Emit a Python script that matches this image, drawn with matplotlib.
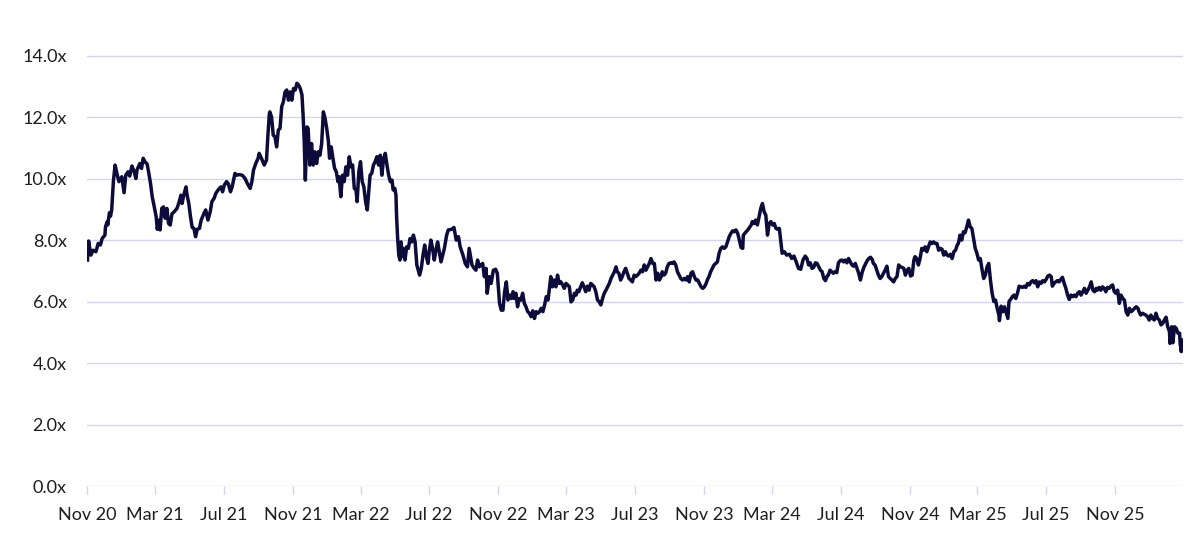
import matplotlib
matplotlib.use("Agg")
import matplotlib.pyplot as plt
import numpy as np
import pandas as pd

# days since 1 Nov 2020
day_offsets = [
    0, 2, 6, 10, 15, 19, 23, 26, 31, 32, 35, 36, 39, 41, 43, 46, 49, 53, 56, 61,
    65, 68, 72, 75, 79, 83, 86, 88, 93, 96, 99, 102, 106, 109, 112, 115, 118, 122, 124, 127,
    129, 132, 135, 138, 141, 144, 147, 150, 154, 159, 163, 166, 168, 171, 175, 177, 180, 183, 186, 189,
    192, 195, 199, 202, 207, 210, 214, 218, 221, 225, 228, 232, 237, 240, 243, 247, 250, 254, 257, 262,
    265, 269, 275, 280, 284, 289, 292, 295, 299, 303, 305, 309, 314, 318, 320, 323,
    324, 327, 330, 333, 336, 339, 342, 345, 348, 351, 354, 357, 360, 363, 366, 369, 372, 375, 378, 381,
    383, 385, 387, 390, 392, 395, 398, 401, 404, 407, 410, 413, 416, 419, 422, 425, 428, 430, 433, 436,
    439, 442, 445, 447, 450, 453, 456, 459, 462, 465, 468, 471, 474, 477, 479, 482, 485, 488, 491, 494,
    497, 500, 502, 505, 508, 511, 514, 517, 520, 523, 526, 529, 532, 535, 538, 541, 543, 546, 548, 549,
    551, 553, 555, 557, 559, 561, 564, 567, 570, 573, 576, 579, 582, 585, 590, 593, 596, 599, 602, 605,
    607, 610, 613, 616, 619, 622, 625, 628, 631, 634,
    638, 641, 647, 651, 655, 659, 662, 667, 671, 675, 678, 683, 687, 690, 693, 696, 699, 702, 705, 708,
    710, 714, 717, 721, 725, 728, 732, 735, 738, 741, 744, 747, 750, 753, 756, 758, 761, 764, 767, 770,
    773, 776, 779, 782, 785, 788, 791, 794, 797, 800, 803, 806, 809, 812, 815, 818, 821, 823, 826, 829,
    832, 835, 838, 841, 844, 847, 850, 853, 856, 859, 862, 865, 868, 870, 873, 876, 879, 882, 885, 888,
    891, 894, 897, 900, 903, 906, 909, 912, 915, 918, 921, 924, 927, 930, 933, 936, 939, 941, 944, 947,
    950, 953, 956, 959, 962, 965, 968, 971, 974, 977, 980, 983, 986, 989, 992, 995, 998, 1001, 1004, 1007,
    1010, 1013, 1016, 1019, 1021, 1024, 1027, 1030, 1033, 1036, 1039, 1042, 1045, 1048, 1051, 1054, 1057, 1060, 1063, 1066,
    1069, 1072, 1075, 1078, 1081, 1084, 1087, 1090, 1093, 1096, 1099, 1101, 1104, 1107, 1110, 1113, 1116, 1119, 1122, 1125,
    1128, 1131, 1134, 1137, 1140, 1143, 1146, 1149, 1152, 1155, 1158, 1161, 1164, 1165, 1170, 1173, 1176, 1179, 1181, 1184,
    1187, 1190, 1193, 1196, 1199, 1202, 1205, 1208, 1211, 1214, 1217, 1220, 1223, 1226, 1229,
    1234, 1238, 1242, 1247, 1251, 1255, 1259, 1263, 1267, 1271, 1275, 1278, 1281, 1284, 1287, 1290, 1293, 1296, 1299, 1302,
    1305, 1308, 1311, 1314, 1316, 1319, 1322, 1325, 1328, 1331, 1334, 1337, 1340, 1343, 1346, 1349, 1352, 1355, 1358, 1361,
    1364, 1367, 1370, 1373, 1376, 1379, 1382, 1385, 1388, 1391, 1394, 1396, 1399, 1402, 1405, 1408, 1411, 1414, 1417, 1420,
    1423, 1426, 1429, 1432, 1435, 1438, 1441, 1444, 1447, 1450, 1453, 1456, 1459, 1462, 1465, 1468, 1470, 1473, 1476, 1479,
    1482, 1485, 1488, 1491, 1494, 1497, 1500, 1503, 1506, 1509, 1512, 1515, 1518, 1521, 1524, 1527, 1530, 1533, 1536, 1539,
    1542, 1545, 1547, 1550, 1553, 1556, 1559, 1562, 1565, 1568, 1571, 1574, 1577, 1580, 1583, 1586, 1589, 1592, 1595, 1598,
    1601, 1604, 1607, 1610, 1613, 1616, 1619, 1620, 1623, 1626, 1629, 1632, 1635, 1637, 1641, 1643, 1646, 1649, 1652, 1655,
    1658, 1661, 1664, 1667, 1670, 1673, 1676, 1679, 1682, 1685, 1688, 1691, 1694, 1697, 1700, 1703, 1706, 1709, 1712, 1714,
    1717, 1720, 1723, 1726, 1729, 1732, 1735, 1738, 1741, 1744, 1747, 1750, 1753, 1756, 1759, 1762, 1765, 1768, 1771, 1774,
    1777, 1780, 1783, 1786, 1789, 1792, 1794, 1797, 1800, 1803, 1806, 1809, 1812, 1815, 1818, 1821, 1824, 1827, 1830, 1833,
    1836, 1839, 1842, 1845, 1848, 1851, 1854, 1857, 1860, 1863, 1866, 1868, 1871, 1874, 1877, 1880, 1883, 1886, 1889, 1892,
    1895, 1898, 1901, 1904, 1907, 1910, 1913, 1916, 1919, 1922, 1923, 1926, 1928, 1931, 1934, 1937, 1940, 1941, 1943, 1945,
]

multiples = [
    7.35, 7.97, 7.51, 7.67, 7.62, 7.89, 7.84, 8.05, 8.16, 8.43, 8.60, 8.49, 8.89, 8.78, 8.98, 9.90, 10.44, 10.11, 9.90, 10.06,
    9.54, 10.11, 10.22, 10.08, 10.41, 10.22, 10.00, 10.28, 10.49, 10.33, 10.66, 10.55, 10.47, 10.17, 9.84, 9.41, 9.14, 8.76, 8.35, 8.65,
    8.33, 9.03, 9.08, 8.71, 9.03, 8.54, 8.49, 8.85, 8.92, 9.03, 9.25, 9.46, 9.19, 9.46, 9.73, 9.46, 9.19, 8.76, 8.41, 8.38,
    8.11, 8.35, 8.38, 8.65, 8.87, 8.98, 8.65, 8.92, 9.25, 9.36, 9.52, 9.63, 9.73, 9.57, 9.79, 9.90, 9.84, 9.57, 9.73, 10.17,
    10.11, 10.13, 10.11, 10.00, 9.84, 9.68, 9.90, 10.28, 10.49, 10.66, 10.82, 10.66, 10.44, 10.60, 11.25, 12.10,
    12.17, 12.00, 11.41, 11.36, 11.03, 11.58, 11.63, 12.34, 12.50, 12.82, 12.88, 12.55, 12.82, 12.55, 12.93, 12.88, 13.10, 13.04, 12.93, 12.72,
    12.07, 11.20, 9.95, 11.68, 11.63, 10.44, 11.14, 10.44, 10.87, 10.49, 10.87, 10.76, 11.14, 12.17, 11.96, 11.63, 11.20, 10.66, 11.03, 10.66,
    10.33, 10.22, 9.90, 10.06, 9.41, 10.11, 9.90, 10.38, 10.11, 10.71, 10.38, 10.44, 9.68, 9.63, 9.25, 10.22, 10.55, 9.90, 9.73, 9.25,
    8.98, 9.68, 10.11, 10.17, 10.44, 10.55, 10.71, 10.44, 10.76, 10.11, 10.66, 10.82, 10.44, 10.11, 9.90, 9.95, 9.63, 9.68, 9.46, 8.81,
    8.05, 7.51, 7.35, 7.94, 7.46, 7.73, 7.35, 7.78, 7.73, 8.05, 7.94, 8.16, 7.94, 7.19, 6.86, 7.08, 7.51, 7.84, 7.46, 7.24,
    7.62, 8.00, 7.73, 7.35, 7.67, 7.94, 7.62, 7.29, 7.51, 7.73,
    8.16, 8.33, 8.35, 8.41, 8.00, 8.11, 7.78, 7.51, 7.24, 7.13, 7.73, 7.19, 7.08, 7.02, 7.35, 7.13, 7.19, 7.24, 6.81, 7.08,
    6.27, 6.81, 6.59, 7.02, 7.05, 6.92, 5.94, 5.72, 5.72, 6.32, 6.64, 6.05, 6.21, 6.10, 6.32, 6.10, 6.27, 5.83, 6.10, 6.05,
    6.27, 5.94, 5.83, 5.67, 5.62, 5.51, 5.70, 5.45, 5.67, 5.62, 5.67, 5.78, 5.67, 5.89, 6.16, 6.05, 6.48, 6.81, 6.48, 6.70,
    6.48, 6.86, 6.59, 6.64, 6.54, 6.43, 6.59, 6.54, 6.48, 5.99, 6.05, 6.27, 6.21, 6.37, 6.32, 6.48, 6.61, 6.48, 6.32, 6.50,
    6.37, 6.59, 6.54, 6.48, 6.32, 6.05, 5.99, 5.89, 6.10, 6.27, 6.37, 6.48, 6.59, 6.75, 6.86, 6.97, 7.13, 6.97, 6.92, 6.70,
    6.81, 6.97, 7.08, 6.92, 6.75, 6.70, 6.64, 6.86, 6.81, 6.86, 6.92, 7.02, 6.97, 7.19, 7.02, 7.13, 7.24, 7.40, 7.24, 7.24,
    6.70, 6.92, 6.70, 6.81, 6.97, 6.86, 6.92, 7.13, 7.24, 7.26, 7.24, 7.29, 7.19, 6.97, 6.86, 6.75, 6.70, 6.75, 6.70, 6.81,
    6.64, 6.92, 6.97, 6.81, 6.70, 6.70, 6.59, 6.48, 6.43, 6.48, 6.59, 6.70, 6.81, 6.97, 7.08, 7.19, 7.24, 7.29, 7.57, 7.73,
    7.78, 7.73, 7.78, 7.94, 8.11, 8.22, 8.30, 8.27, 8.33, 8.22, 8.00, 7.76, 7.73, 8.16, 8.27, 8.33, 8.41, 8.49, 8.60, 8.54,
    8.65, 8.49, 8.76, 9.03, 9.19, 8.92, 8.81, 8.16, 8.54, 8.60, 8.49, 8.54, 8.38, 8.35, 8.38,
    7.57, 7.62, 7.51, 7.54, 7.40, 7.48, 7.29, 7.08, 7.05, 7.35, 7.48, 7.40, 7.19, 7.26, 7.08, 7.11, 7.26, 7.24, 7.13, 7.02,
    6.97, 6.75, 6.68, 6.83, 6.86, 7.02, 6.97, 6.92, 6.97, 6.94, 7.26, 7.33, 7.35, 7.29, 7.35, 7.26, 7.40, 7.29, 7.19, 7.15,
    7.24, 7.08, 6.92, 6.70, 6.94, 7.11, 7.22, 7.33, 7.40, 7.44, 7.37, 7.24, 7.19, 7.02, 6.86, 6.75, 6.81, 6.92, 7.02, 7.15,
    6.81, 6.75, 6.70, 6.64, 6.75, 6.81, 7.19, 7.13, 7.11, 7.08, 6.86, 7.02, 7.08, 6.83, 6.86, 7.35, 7.46, 7.40, 7.19, 7.40,
    7.73, 7.67, 7.78, 7.62, 7.78, 7.94, 7.89, 7.94, 7.89, 7.89, 7.67, 7.73, 7.70, 7.51, 7.62, 7.51, 7.48, 7.54, 7.40, 7.62,
    7.67, 7.84, 7.89, 8.16, 8.00, 8.27, 8.24, 8.43, 8.65, 8.43, 8.38, 8.05, 7.73, 7.57, 7.35, 7.40, 7.05, 6.75, 6.86, 7.13,
    7.24, 6.70, 6.27, 6.00, 6.05, 5.78, 5.56, 5.38, 5.85, 5.67, 5.83, 5.64, 5.45, 6.00, 6.10, 6.16, 6.21, 6.10, 6.27, 6.50,
    6.48, 6.46, 6.50, 6.46, 6.59, 6.54, 6.64, 6.68, 6.61, 6.68, 6.48, 6.64, 6.59, 6.68, 6.64, 6.72, 6.83, 6.86, 6.81, 6.50,
    6.59, 6.64, 6.68, 6.64, 6.72, 6.79, 6.59, 6.43, 6.21, 6.07, 6.21, 6.16, 6.21, 6.16, 6.27, 6.32, 6.21, 6.32, 6.43, 6.27,
    6.37, 6.48, 6.64, 6.37, 6.32, 6.43, 6.37, 6.46, 6.37, 6.48, 6.43, 6.32, 6.46, 6.43, 6.50, 6.54, 6.32, 6.27, 6.37, 5.94,
    6.21, 6.10, 6.05, 5.67, 5.56, 5.78, 5.67, 5.72, 5.78, 5.83, 5.78, 5.67, 5.56, 5.62, 5.59, 5.56, 5.51, 5.40, 5.56, 5.45,
    5.40, 5.62, 5.45, 5.40, 5.24, 5.29, 5.40, 5.49, 5.18, 5.02, 4.64, 5.18, 4.66, 5.18, 5.13, 4.97, 4.97, 4.64, 4.37, 4.75,
]

start_date = pd.Timestamp("2020-11-01")
end_date = pd.Timestamp("2026-03-01")
tick_dates = pd.date_range("2020-11-01", "2025-11-01", freq="4MS")
tick_labels = ["Nov 20", "Mar 21", "Jul 21", "Nov 21", "Mar 22", "Jul 22", "Nov 22", "Mar 23",
               "Jul 23", "Nov 23", "Mar 24", "Jul 24", "Nov 24", "Mar 25", "Jul 25", "Nov 25"]
y_ticks = [0, 2, 4, 6, 8, 10, 12, 14]

dates = start_date + pd.to_timedelta(day_offsets, unit="D")

plt.rcParams["font.family"] = ["Lato", "DejaVu Sans"]

line_col = "#0c0b3a"
grid_col = "#d3d3f7"
text_col = "#1e1e1e"

fig = plt.figure(figsize=(12, 5.55), dpi=100)
ax = fig.add_axes([0.0729, 0.1243, 0.9129, 0.7866])

ax.plot(dates, multiples, color=line_col, lw=2.5, solid_joinstyle="round", zorder=3)

ax.set_ylim(0, 14.2)
ax.set_xlim(start_date, end_date)
ax.set_yticks(y_ticks)
ax.set_yticklabels([f"{v:.1f}x" for v in y_ticks])
ax.set_xticks(tick_dates)
ax.set_xticklabels(tick_labels)

for v in y_ticks:
    ax.axhline(v, color=grid_col, lw=1.0, zorder=1)

for s in ax.spines.values():
    s.set_visible(False)

ax.tick_params(axis="y", length=0, pad=15, labelsize=13, labelcolor=text_col)
ax.tick_params(axis="x", length=6, width=1, color=grid_col, pad=9,
               labelsize=13, labelcolor=text_col)

fig.savefig("out.png", dpi=100, facecolor="white")
